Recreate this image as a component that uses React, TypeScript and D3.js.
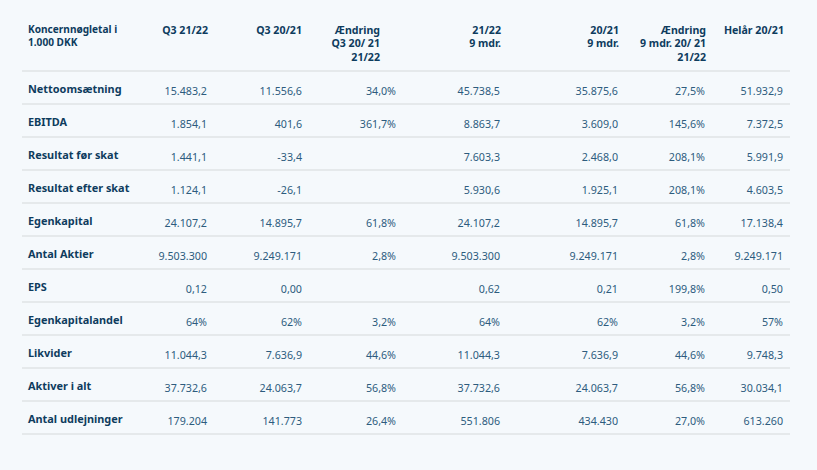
import React from "react";
import * as d3 from "d3";

const categories = [
  "Nettoomsætning",
  "EBITDA",
  "Resultat før skat",
  "Resultat efter skat",
  "Egenkapital",
  "Antal Aktier",
  "EPS",
  "Egenkapitalandel",
  "Likvider",
  "Aktiver i alt",
  "Antal udlejninger",
];

const headerLabel = ["Koncernnøgletal i", "1.000 DKK"];
const columnHeaders = [
  ["Q3 21/22"],
  ["Q3 20/21"],
  ["Ændring", "Q3 20/ 21", "21/22"],
  ["21/22", "9 mdr."],
  ["20/21", "9 mdr."],
  ["Ændring", "9 mdr. 20/ 21", "21/22"],
  ["Helår 20/21"],
];

const q3_2122 = ["15.483,2", "1.854,1", "1.441,1", "1.124,1", "24.107,2", "9.503.300", "0,12", "64%", "11.044,3", "37.732,6", "179.204"];
const q3_2021 = ["11.556,6", "401,6", "-33,4", "-26,1", "14.895,7", "9.249.171", "0,00", "62%", "7.636,9", "24.063,7", "141.773"];
const changeQ3 = ["34,0%", "361,7%", "", "", "61,8%", "2,8%", "", "3,2%", "44,6%", "56,8%", "26,4%"];
const nineM_2122 = ["45.738,5", "8.863,7", "7.603,3", "5.930,6", "24.107,2", "9.503.300", "0,62", "64%", "11.044,3", "37.732,6", "551.806"];
const nineM_2021 = ["35.875,6", "3.609,0", "2.468,0", "1.925,1", "14.895,7", "9.249.171", "0,21", "62%", "7.636,9", "24.063,7", "434.430"];
const change9M = ["27,5%", "145,6%", "208,1%", "208,1%", "61,8%", "2,8%", "199,8%", "3,2%", "44,6%", "56,8%", "27,0%"];
const fullYear_2021 = ["51.932,9", "7.372,5", "5.991,9", "4.603,5", "17.138,4", "9.249.171", "0,50", "57%", "9.748,3", "30.034,1", "613.260"];

const seriesValues = [q3_2122, q3_2021, changeQ3, nineM_2122, nineM_2021, change9M, fullYear_2021];

const W = 817;
const H = 470;
const tableLeft = 22;
const tableRight = 790;
const headerBottom = 71;
const rowsBottom = 434;
const labelX = 28;
const valueRight = [207, 302, 396, 500, 618, 705, 783];
const headerRight = [208, 302, 380, 501, 619, 706, 784];

const navy = "#0e3c5e";
const dataColor = "#2d5c7e";
const lineColor = "#dfe3e6";
const bg = "#f5f9fc";
const font = "'Noto Sans', sans-serif";

export default function App() {
  const y = d3
    .scaleBand<string>()
    .domain(categories)
    .range([headerBottom, rowsBottom])
    .paddingInner(0)
    .paddingOuter(0);

  return (
    <svg
      width={W}
      height={H}
      style={{ position: "absolute", left: 0, top: 0, background: bg }}
      fontFamily={font}
    >
      <rect x={0} y={0} width={W} height={H} fill={bg} />
      {headerLabel.map((t, i) => (
        <text key={"hl" + i} x={labelX} y={33.4 + i * 12.2} fontSize={10.1} fontWeight={700} fill={navy}>
          {t}
        </text>
      ))}
      {columnHeaders.map((lines, c) =>
        lines.map((t, i) => (
          <text
            key={"h" + c + "-" + i}
            x={headerRight[c]}
            y={34 + i * 13.4}
            fontSize={10.6}
            fontWeight={700}
            fill={navy}
            textAnchor="end"
          >
            {t}
          </text>
        ))
      )}
      <line x1={tableLeft} x2={tableRight} y1={headerBottom} y2={headerBottom} stroke={lineColor} strokeWidth={1.6} />
      {categories.map((cat, r) => {
        const top = y(cat) as number;
        return (
          <g key={cat}>
            <text x={labelX} y={top + 22.2} fontSize={10.9} fontWeight={700} fill={navy}>
              {cat}
            </text>
            {seriesValues.map((col, c) => (
              <text
                key={c}
                x={valueRight[c]}
                y={top + 24}
                fontSize={10.7}
                fill={dataColor}
                textAnchor="end"
              >
                {col[r]}
              </text>
            ))}
            <line
              x1={tableLeft}
              x2={tableRight}
              y1={top + y.bandwidth()}
              y2={top + y.bandwidth()}
              stroke={lineColor}
              strokeWidth={1.6}
            />
          </g>
        );
      })}
    </svg>
  );
}
